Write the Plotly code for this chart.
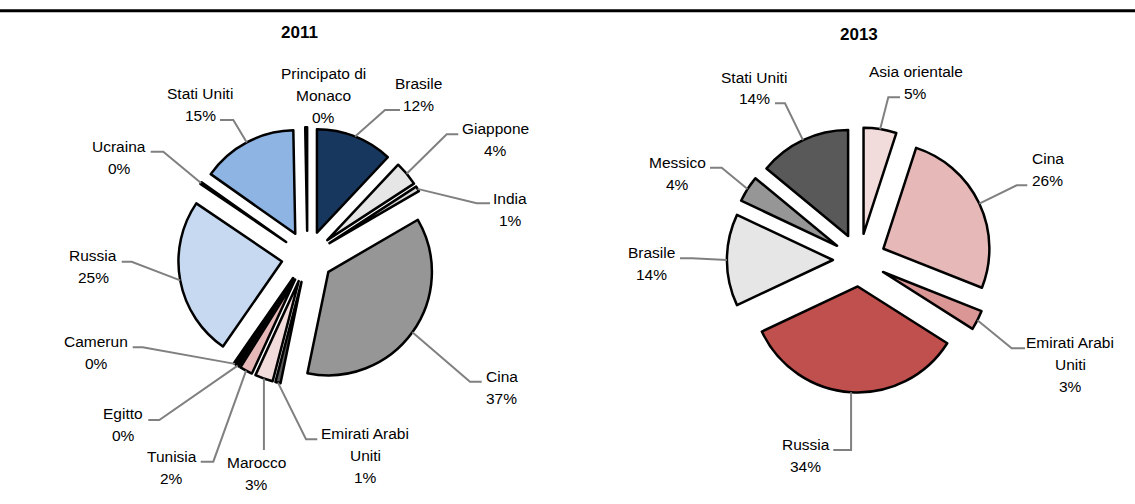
import math
import plotly.graph_objects as go

W, H = 1135, 504

# ---------------- data ----------------
countries_2011 = ["Brasile", "Giappone", "India", "Cina", "Emirati Arabi Uniti",
                  "Marocco", "Tunisia", "Egitto", "Camerun", "Russia", "Ucraina",
                  "Stati Uniti", "Principato di Monaco"]
shares_2011 = [12.0, 3.8, 0.8, 36.6, 0.8, 2.8, 2.0, 0.4, 0.4, 24.8, 0.3, 14.9, 0.3]

countries_2013 = ["Asia orientale", "Cina", "Emirati Arabi Uniti", "Russia",
                  "Brasile", "Messico", "Stati Uniti"]
shares_2013 = [5, 26, 3, 34, 14, 4, 14]

titles = ["2011", "2013"]

# ---------------- styles ----------------
colors_2011 = ["#17375e", "#e6e6e6", "#d9d9d9", "#969696", "#595959", "#f2dcdb",
               "#e6b9b8", "#1a1a1a", "#000000", "#c6d9f1", "#000000", "#8db4e2", "#000000"]
colors_2013 = ["#f2dcdb", "#e6b9b8", "#da9694", "#c0504d", "#e6e6e6", "#969696", "#595959"]

LABEL_FONT = dict(family="Liberation Sans, Arial, sans-serif", size=15.5, color="#000000")
LINE_STEP = 21.8  # px between label lines
TITLE_FONT = dict(family="Liberation Sans, Arial, sans-serif", size=17, color="#000000")
LEADER = dict(color="#808080", width=2)
BORDER = dict(color="#000000", width=2.5)

# pie geometry in pixels (centre, radius, explosion fraction)
PIE_2011 = dict(cx=307.4, cy=256.7, r=103.5, pull=0.25)
PIE_2013 = dict(cx=859.4, cy=260.0, r=106.0, pull=0.25)
TITLE_POS = [(299, 32), (858.6, 35)]

# label placement (px): text-block centre, leader elbow, leader end at text
PLACE_2011 = {
    "Brasile": ((418.3, 94.2), (385, 110), (400, 110)),
    "Giappone": ((495, 139.7), (446.7, 134.3), (458.3, 134.3)),
    "India": ((510, 209.2), (476.7, 203.3), (490, 203.3)),
    "Cina": ((501.7, 387.5), (470, 381.7), (481.7, 381.7)),
    "Emirati Arabi Uniti": ((365, 455.7), (306, 439.3), (317.3, 439.3)),
    "Marocco": ((256, 473.8), (None, 450), None),
    "Tunisia": ((171.7, 467.5), (213.3, 461.7), (200.7, 461.7)),
    "Egitto": ((123.3, 424.5), (159.3, 420), (148.3, 420)),
    "Camerun": ((96, 352.8), (142.7, 347.3), (132.7, 347.3)),
    "Russia": ((93.3, 266.7), (131.7, 261.7), (121.7, 261.7)),
    "Ucraina": ((119.3, 157.5), (163.3, 151.7), (150.7, 151.7)),
    "Stati Uniti": ((200, 104.2), (233.3, 120), (220, 120)),
    "Principato di Monaco": ((323.3, 95.3), None, None),
}
PLACE_2013 = {
    "Asia orientale": ((915.7, 82.2), (888.3, 97.3), (900, 97.3)),
    "Cina": ((1047.7, 169.2), (1016.7, 185.3), (1027.3, 185.3)),
    "Emirati Arabi Uniti": ((1070, 364.5), (1011.7, 348.3), (1025, 348.3)),
    "Russia": ((805.7, 455.8), (None, 450), (833.3, 450)),
    "Brasile": ((651.7, 263.7), (692, 258.3), (680, 258.3)),
    "Messico": ((677.3, 173.3), (721.7, 167.7), (710, 167.7)),
    "Stati Uniti": ((754, 88), (785, 103.3), (775, 103.3)),
}


def px(x):
    return x / W


def py(y):
    return 1 - y / H


def wrap(name):
    if len(name) > 15:
        i = name.rfind(" ")
        return [name[:i], name[i + 1:]]
    return [name]


fig = go.Figure()
shapes = []
annotations = []

for names, vals, cols, geo, place in [
    (countries_2011, shares_2011, colors_2011, PIE_2011, PLACE_2011),
    (countries_2013, shares_2013, colors_2013, PIE_2013, PLACE_2013),
]:
    size = geo["r"] * (2 + 2 * geo["pull"])
    fig.add_trace(go.Pie(
        labels=names, values=vals, sort=False, direction="clockwise", rotation=0,
        pull=[geo["pull"]] * len(vals),
        marker=dict(colors=cols, line=BORDER),
        textinfo="none", hoverinfo="skip", showlegend=False,
        domain=dict(x=[px(geo["cx"] - size / 2), px(geo["cx"] + size / 2)],
                    y=[py(geo["cy"] + size / 2), py(geo["cy"] - size / 2)]),
    ))

    total = sum(vals)
    cum = 0.0
    for name, v in zip(names, vals):
        mid = (cum + v / 2) / total * 2 * math.pi
        cum += v
        dist = geo["r"] * (1 + geo["pull"])
        ax = geo["cx"] + dist * math.sin(mid)
        ay = geo["cy"] - dist * math.cos(mid)
        (tx, ty), elbow, tend = place[name]
        pct = round(v / total * 100)
        lines = wrap(name) + [f"{pct}%"]
        y0 = ty - (len(lines) - 1) * LINE_STEP / 2
        for k, line in enumerate(lines):
            annotations.append(dict(
                x=px(tx), y=py(y0 + k * LINE_STEP), xref="paper", yref="paper",
                showarrow=False, xanchor="center", yanchor="middle",
                text=line, font=LABEL_FONT))
        if elbow is not None:
            ex = ax if elbow[0] is None else elbow[0]
            ey = elbow[1]
            path = f"M {px(ax)},{py(ay)} L {px(ex)},{py(ey)}"
            if tend is not None:
                path += f" L {px(tend[0])},{py(tend[1])}"
            shapes.append(dict(type="path", xref="paper", yref="paper", path=path,
                               line=LEADER, fillcolor="rgba(0,0,0,0)"))

for t, (x, y) in zip(titles, TITLE_POS):
    annotations.append(dict(x=px(x), y=py(y), xref="paper", yref="paper", showarrow=False,
                            xanchor="center", yanchor="middle",
                            text=f"<b>{t}</b>", font=TITLE_FONT))

shapes.append(dict(type="line", xref="paper", yref="paper", x0=0, x1=1,
                   y0=py(10.7), y1=py(10.7), line=dict(color="#000000", width=3)))

fig.update_layout(
    width=W, height=H, margin=dict(l=0, r=0, t=0, b=0),
    paper_bgcolor="#ffffff", plot_bgcolor="#ffffff",
    shapes=shapes, annotations=annotations,
)

fig.write_html("out.html", config={"displayModeBar": False},
               post_script="document.body.style.margin='0px';")
